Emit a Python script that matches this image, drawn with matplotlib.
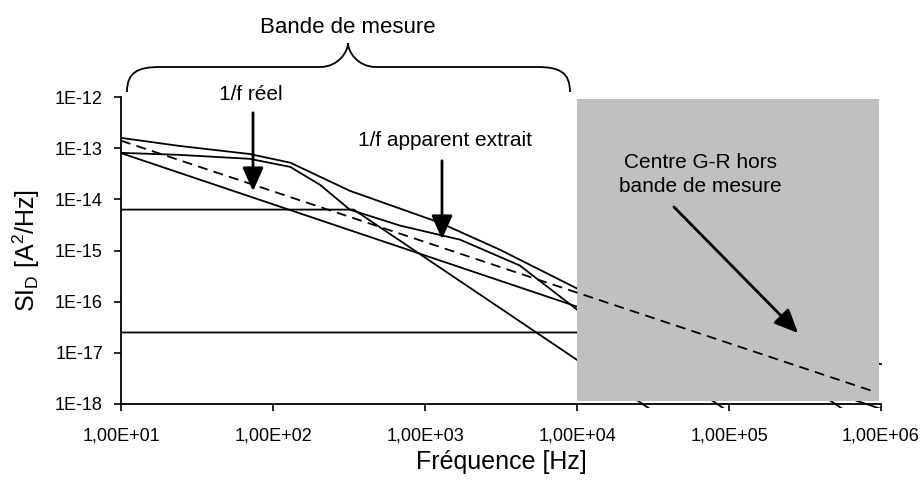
import numpy as np
import matplotlib
matplotlib.use('Agg')
import matplotlib.pyplot as plt
from matplotlib.patches import Rectangle, PathPatch, FancyArrowPatch
from matplotlib.path import Path

plt.rcParams['font.family'] = ['Liberation Sans', 'DejaVu Sans']

# DATA (f in Hz, S in A^2/Hz)
f_reel = [10, 1e6]                      # 1/f reel
s_reel = [8e-14, 8e-19]

f_app = [10, 9e5]                       # 1/f apparent (dashed)
s_app = [1.4e-13, 1.75e-18]

f_gr1 = [10, 340, 1e6]                  # G-R centre in band (asymptotes)
s_gr1 = [6.3e-15, 6.3e-15, 7.3e-22]

f_gr2 = [10, 1e5, 1e6]                  # G-R centre out of band
s_gr2 = [2.5e-17, 2.5e-17, 2.5e-19]

f_tot = [10, 24, 70, 130, 320, 1250, 3100, 1e4, 1e5, 1e6]
s_tot = [1.59e-13, 1.11e-13, 7.7e-14, 5.2e-14, 1.47e-14, 3.5e-15, 1.04e-15, 1.81e-16, 3e-17, 6e-18]

f_mix = [10, 24, 70, 130, 205, 320, 690, 1700, 4200, 1e4, 1e5]
s_mix = [8.1e-14, 7.4e-14, 6.2e-14, 4.3e-14, 1.9e-14, 6.3e-15, 3.05e-15, 1.63e-15, 5.1e-16, 7e-17, 7e-19]

band_out = (1e4, 9.7e5, 1.12e-18, 9.2e-13)   # grey zone: f0, f1, s0, s1

xticks = [1e1, 1e2, 1e3, 1e4, 1e5, 1e6]
xtick_labels = ['1,00E+01', '1,00E+02', '1,00E+03', '1,00E+04', '1,00E+05', '1,00E+06']
yticks = [1e-18, 1e-17, 1e-16, 1e-15, 1e-14, 1e-13, 1e-12]
ytick_labels = ['1E-18', '1E-17', '1E-16', '1E-15', '1E-14', '1E-13', '1E-12']

W, H = 922, 483
fig = plt.figure(figsize=(W / 100, H / 100), dpi=100)
ax = fig.add_axes([121 / W, 1 - 404 / H, 760 / W, 307 / H])


def px(x, y):
    # pixel position (from top-left) -> figure fraction
    return (x / W, 1 - y / H)


# PLOT SECTION
clip = Rectangle((0, -0.013), 1.005, 1.03, transform=ax.transAxes, facecolor='none')
for f, s in [(f_reel, s_reel), (f_gr1, s_gr1), (f_gr2, s_gr2), (f_tot, s_tot), (f_mix, s_mix)]:
    ln, = ax.plot(f, s, color='black', lw=1.3, zorder=2)
    ln.set_clip_path(clip)

x0, x1, y0, y1 = band_out
ax.add_patch(Rectangle((x0, y0), x1 - x0, y1 - y0, facecolor='#c0c0c0', edgecolor='none', zorder=3))

ax.plot(f_app, s_app, color='black', lw=1.3, ls=(0, (5.5, 3.5)), zorder=4)

# AXES
ax.set_xscale('log')
ax.set_yscale('log')
ax.set_xlim(10, 1e6)
ax.set_ylim(1e-18, 1e-12)
ax.set_xticks(xticks, xtick_labels)
ax.set_yticks(yticks, ytick_labels)
ax.minorticks_off()
ax.tick_params(axis='both', labelsize=13, length=5, width=1.2, direction='out', color='black')
ax.tick_params(axis='y', pad=8)
ax.tick_params(axis='x', pad=12)
ax.spines['right'].set_visible(False)
ax.spines['top'].set_visible(False)
ax.spines['left'].set_linewidth(1.3)
ax.spines['bottom'].set_linewidth(1.3)

ax.set_xlabel('Fréquence [Hz]', fontsize=18, labelpad=4)
ax.set_ylabel(r'SI$_\mathregular{D}$ [A$^\mathregular{2}$/Hz]', fontsize=18, labelpad=9)

# ANNOTATIONS
fig.text(*px(348, 33), 'Bande de mesure', fontsize=16, ha='center', va='baseline')
fig.text(*px(251, 100), '1/f réel', fontsize=15, ha='center', va='baseline')
fig.text(*px(445, 146), '1/f apparent extrait', fontsize=15, ha='center', va='baseline')
fig.text(*px(700, 168), 'Centre G-R hors', fontsize=15, ha='center', va='baseline')
fig.text(*px(700, 192), 'bande de mesure', fontsize=15, ha='center', va='baseline')

for a, b in [((253, 110), (253, 194)), ((442, 158), (442, 242)), ((672, 205), (800, 335))]:
    fig.add_artist(FancyArrowPatch(px(*a), px(*b), transform=fig.transFigure,
                                   arrowstyle='-|>,head_length=0.9,head_width=0.4',
                                   mutation_scale=16, lw=2, color='black'))

# curly brace over the measurement band
verts = [px(127, 92), px(127, 72), px(138, 67), px(160, 67),
         px(320, 67), px(338, 67), px(348, 52), px(348, 43),
         px(348, 52), px(358, 67), px(376, 67),
         px(537, 67), px(559, 67), px(570, 72), px(570, 92)]
codes = [Path.MOVETO, Path.CURVE4, Path.CURVE4, Path.CURVE4,
         Path.LINETO, Path.CURVE4, Path.CURVE4, Path.CURVE4,
         Path.CURVE4, Path.CURVE4, Path.CURVE4,
         Path.LINETO, Path.CURVE4, Path.CURVE4, Path.CURVE4]
fig.add_artist(PathPatch(Path(verts, codes), transform=fig.transFigure,
                         facecolor='none', edgecolor='black', lw=1.3))

plt.savefig('out.png', dpi=100)
